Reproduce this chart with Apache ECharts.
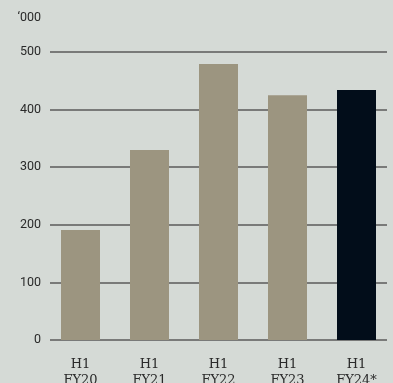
<!DOCTYPE html>
<html><head><meta charset="utf-8">
<style>html,body{margin:0;padding:0;background:#d5dad6;}#c{width:393px;height:383px;}</style>
<script src="https://cdn.jsdelivr.net/npm/echarts@6/dist/echarts.min.js"></script>
</head><body><div id="c"></div>
<script>
const categories = ['H1\nFY20','H1\nFY21','H1\nFY22','H1\nFY23','H1\nFY24*'];
const values = [191, 330, 479, 425, 434];
const barColors = ['#9c9580','#9c9580','#9c9580','#9c9580','#020d1a'];
const yTicks = [0,100,200,300,400,500];
const unitLabel = '\u2018000';

const chart = echarts.init(document.getElementById('c'));
chart.setOption({
  backgroundColor: '#d5dad6',
  animation: false,
  grid: [
    {left: 50, right: 6, top: 52, bottom: 43, outerBoundsMode: 'none', containLabel: false},
    {left: 46, right: 2, top: 52, bottom: 43, outerBoundsMode: 'none', containLabel: false}
  ],
  xAxis: [
    {gridIndex: 0, type: 'value', show: false, min: 0, max: 1},
    {gridIndex: 1, type: 'category', data: categories,
     axisLine: {show: false}, axisTick: {show: false},
     axisLabel: {margin: 17, color: '#2a2a2a', fontFamily: 'DejaVu Serif', fontSize: 13, lineHeight: 16}}
  ],
  yAxis: [
    {gridIndex: 0, type: 'value', min: 0, max: 500, interval: 100,
     axisLine: {show: false}, axisTick: {show: false},
     axisLabel: {margin: 9, color: '#2a2a2a', fontFamily: 'Roboto', fontSize: 12.5},
     splitLine: {lineStyle: {color: '#5a5a5a', width: 1.5}}},
    {gridIndex: 1, type: 'value', min: 0, max: 500, interval: 100, show: false, splitLine: {show: false}}
  ],
  graphic: [{type: 'text', right: 352, top: 11, style: {text: unitLabel, fill: '#2a2a2a', font: '12.5px Roboto', textAlign: 'right'}}],
  series: [{
    type: 'bar', xAxisIndex: 1, yAxisIndex: 1, barWidth: 39, z: 5,
    data: values.map((v, i) => ({value: v, itemStyle: {color: barColors[i]}}))
  }]
});
</script></body></html>
